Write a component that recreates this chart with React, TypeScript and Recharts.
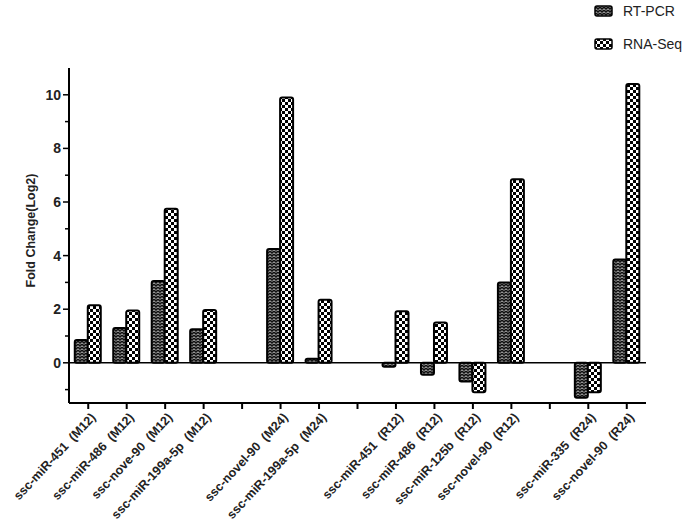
import React from "react";
import {
  BarChart,
  Bar,
  XAxis,
  YAxis,
  ReferenceLine,
} from "recharts";

// empty strings are the gaps between the groups
const categories = [
  "ssc-miR-451  (M12)",
  "ssc-miR-486  (M12)",
  "ssc-nove-90  (M12)",
  "ssc-miR-199a-5p  (M12)",
  "",
  "ssc-novel-90  (M24)",
  "ssc-miR-199a-5p  (M24)",
  "",
  "ssc-miR-451  (R12)",
  "ssc-miR-486  (R12)",
  "ssc-miR-125b  (R12)",
  "ssc-novel-90  (R12)",
  "",
  "ssc-miR-335  (R24)",
  "ssc-novel-90  (R24)",
];

const rtPcr = [0.85, 1.3, 3.05, 1.25, null, 4.25, 0.15, null, -0.15, -0.45, -0.7, 3.0, null, -1.3, 3.85];
const rnaSeq = [2.15, 1.95, 5.75, 1.97, null, 9.9, 2.35, null, 1.92, 1.5, -1.1, 6.85, null, -1.1, 10.4];

const yTicks = [-1, 0, 1, 2, 3, 4, 5, 6, 7, 8, 9, 10];

const FONT = "'Liberation Sans', Arial, sans-serif";

const data = categories.map((name, i) => ({
  name,
  rt: rtPcr[i],
  rna: rnaSeq[i],
}));

const YTick = (props: any) => {
  const { x, y, payload } = props;
  const major = payload.value % 2 === 0;
  return (
    <g>
      <line x1={x - (major ? 6 : 4)} x2={x} y1={y} y2={y} stroke="#000" strokeWidth={1.5} />
      {major && (
        <text x={x - 8} y={y} dy={5} textAnchor="end" fontSize={14} fontWeight="bold" fontFamily={FONT} fill="#222">
          {payload.value}
        </text>
      )}
    </g>
  );
};

const XTick = (props: any) => {
  const { x, y, payload } = props;
  const ax = x + 8;
  const ay = y + 7;
  return (
    <text
      x={ax}
      y={ay}
      textAnchor="end"
      transform={`rotate(-47, ${ax}, ${ay})`}
      fontSize={12.5}
      fontWeight="bold"
      fontFamily={FONT}
      fill="#222"
      style={{ whiteSpace: "pre" }}
    >
      {payload.value}
    </text>
  );
};

const legendItems = [
  { label: "RT-PCR", fill: "url(#rtPattern)" },
  { label: "RNA-Seq", fill: "url(#rnaPattern)" },
];

export default function App() {
  return (
    <div style={{ position: "absolute", left: 0, top: 0, width: 685, height: 527, background: "#fff", overflow: "hidden" }}>
      <BarChart
        width={685}
        height={527}
        data={data}
        margin={{ top: 68, right: 39, left: 0, bottom: 0 }}
        barCategoryGap="15%"
        barGap={0}
      >
        <defs>
          <pattern id="rnaPattern" width={6} height={6} patternUnits="userSpaceOnUse">
            <rect width={6} height={6} fill="#000" />
            <rect x={0} y={0} width={3} height={3} fill="#fff" />
            <rect x={3} y={3} width={3} height={3} fill="#fff" />
          </pattern>
          <pattern id="rtPattern" width={4} height={3} patternUnits="userSpaceOnUse">
            <rect width={4} height={3} fill="#111" />
            <path d="M0.3,2.2 L2,0.8 L3.7,2.2" stroke="#e0e0e0" strokeWidth={0.9} fill="none" />
          </pattern>
        </defs>
        <XAxis
          dataKey="name"
          interval={0}
          height={124}
          axisLine={{ stroke: "#000", strokeWidth: 2 }}
          tickLine={{ stroke: "#000", strokeWidth: 2 }}
          tickSize={6}
          tickMargin={2}
          tick={<XTick />}
        />
        <YAxis
          width={69}
          domain={[-1.5, 11]}
          ticks={yTicks}
          interval={0}
          allowDataOverflow
          axisLine={{ stroke: "#000", strokeWidth: 2 }}
          tickLine={false}
          tickSize={0}
          tickMargin={0}
          tick={<YTick />}
          label={{
            value: "Fold Change(Log2)",
            angle: -90,
            position: "center",
            dx: -4,
            dy: -5,
            style: { fontFamily: FONT, fontSize: 12.5, fontWeight: "bold", fill: "#222" },
          }}
        />
        <ReferenceLine y={0} stroke="#000" strokeWidth={1.5} />
        <Bar dataKey="rt" name="RT-PCR" fill="url(#rtPattern)" stroke="#000" strokeWidth={2} radius={2} isAnimationActive={false} />
        <Bar dataKey="rna" name="RNA-Seq" fill="url(#rnaPattern)" stroke="#000" strokeWidth={2} radius={2} isAnimationActive={false} />
      </BarChart>
      <div style={{ position: "absolute", left: 594, top: -6, fontFamily: FONT, fontSize: 14, color: "#222" }}>
        {legendItems.map((item, i) => (
          <div key={i} style={{ display: "flex", alignItems: "center", height: 33 }}>
            <svg width={19} height={12} style={{ marginRight: 10 }}>
              <rect x={1} y={1} width={17} height={10} rx={2} fill={item.fill} stroke="#000" strokeWidth={1.5} />
            </svg>
            <span>{item.label}</span>
          </div>
        ))}
      </div>
    </div>
  );
}
